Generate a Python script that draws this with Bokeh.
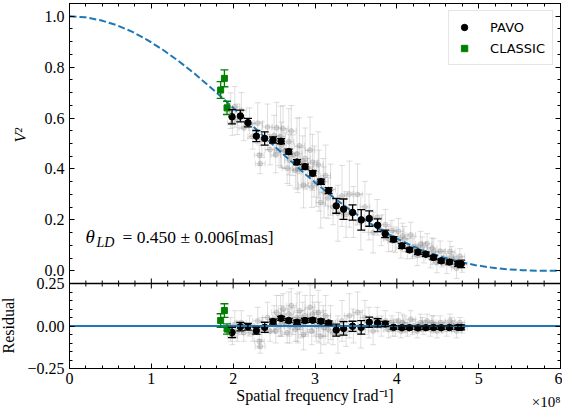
import numpy as np
from bokeh.plotting import figure
from bokeh.models import (ColumnDataSource, Whisker, TeeHead, Span, Label, Legend, Title,
                          LegendItem, LinearAxis, SingleIntervalTicker, FixedTicker, Range1d,
                          CustomJSTickFormatter)
from bokeh.embed import file_html
from bokeh.resources import INLINE

# ---------------- data (spatial frequency in units of 1e8 rad^-1) ----------------
model_sf = [0.0, 0.1909, 0.3817, 0.5726, 0.7635, 0.9544, 1.1452, 1.3361, 1.527, 1.7178,
            1.9087, 2.0996, 2.2904, 2.4813, 2.6722, 2.863, 3.0539, 3.2448, 3.4356, 3.6265,
            3.8174, 4.0082, 4.1991, 4.39, 4.5808, 4.7717, 4.9626, 5.1535, 5.3443, 5.5352,
            5.7261, 5.85, 6.0]
model_v2 = [1.0, 0.996, 0.984, 0.9653, 0.9394, 0.9062, 0.8672, 0.8232, 0.7748, 0.7224,
            0.6674, 0.6109, 0.5533, 0.4961, 0.4397, 0.3849, 0.3326, 0.2833, 0.2376, 0.1958,
            0.1581, 0.1249, 0.0960, 0.0714, 0.0511, 0.0347, 0.0220, 0.0126, 0.0062, 0.0022,
            0.0003, 0.0, 0.0004]

pavo_sf = [1.986, 2.088, 2.180, 2.283, 2.385, 2.487, 2.585, 2.678, 2.780, 2.878,
           2.971, 3.073, 3.166, 3.260, 3.349, 3.459, 3.565, 3.663, 3.765, 3.858,
           3.960, 4.062, 4.155, 4.258, 4.355, 4.448, 4.542, 4.643, 4.746, 4.786]
pavo_v2 = [0.605, 0.608, 0.582, 0.529, 0.520, 0.514, 0.509, 0.468, 0.427, 0.409,
           0.383, 0.350, 0.315, 0.255, 0.242, 0.229, 0.200, 0.205, 0.179, 0.145,
           0.124, 0.098, 0.082, 0.073, 0.065, 0.052, 0.039, 0.034, 0.027, 0.027]
pavo_err = [0.028, 0.023, 0.017, 0.022, 0.026, 0.012, 0.010, 0.010, 0.010, 0.010,
            0.010, 0.010, 0.012, 0.029, 0.040, 0.030, 0.040, 0.030, 0.025, 0.015,
            0.010, 0.010, 0.008, 0.008, 0.008, 0.008, 0.008, 0.008, 0.010, 0.015]
pavo_res = [-0.038, -0.004, -0.004, -0.028, -0.008, 0.026, 0.045, 0.032, 0.022, 0.032,
            0.034, 0.028, 0.018, -0.024, -0.014, -0.002, -0.008, 0.022, 0.018, 0.012,
            -0.008, -0.010, -0.010, -0.011, -0.010, -0.009, -0.010, -0.009, -0.008, -0.008]
pavo_res_err = [0.030, 0.025, 0.020, 0.020, 0.030, 0.015, 0.012, 0.012, 0.012, 0.012,
                0.012, 0.012, 0.012, 0.035, 0.040, 0.030, 0.040, 0.030, 0.025, 0.015,
                0.010, 0.010, 0.010, 0.010, 0.010, 0.010, 0.010, 0.010, 0.012, 0.015]

classic_sf = [1.847, 1.893, 1.925]
classic_v2 = [0.710, 0.756, 0.640]
classic_err = [0.033, 0.033, 0.026]
classic_res = [0.032, 0.091, -0.018]
classic_res_err = [0.040, 0.040, 0.030]

gray_sf = [1.97, 1.99, 2.02, 2.05, 2.10, 2.13, 2.20, 2.24, 2.30, 2.32, 2.33, 2.35, 2.42, 2.45,
           2.50, 2.52, 2.53, 2.56, 2.58, 2.59, 2.61, 2.63, 2.66, 2.68, 2.69, 2.71, 2.73, 2.76, 2.78, 2.79,
           2.81, 2.83, 2.85, 2.86, 2.88, 2.91, 2.94, 2.96, 2.97, 2.99, 3.02, 3.04, 3.05, 3.07, 3.10, 3.11,
           3.13, 3.16, 3.19, 3.22, 3.28, 3.33, 3.38, 3.42, 3.47, 3.52, 3.56, 3.61, 3.66, 3.71, 3.76, 3.81,
           3.86, 3.90, 3.94, 3.95, 3.98, 4.02, 4.05, 4.07, 4.09, 4.13, 4.17, 4.19, 4.21, 4.25, 4.29, 4.31,
           4.33, 4.37, 4.41, 4.43, 4.45, 4.49, 4.53, 4.55, 4.57, 4.61, 4.65, 4.67, 4.69, 4.73, 4.77, 4.80]
gray_v2 = [0.629, 0.582, 0.644, 0.595, 0.630, 0.561, 0.580, 0.528, 0.580, 0.454, 0.421, 0.515, 0.565, 0.476,
           0.531, 0.455, 0.562, 0.473, 0.527, 0.494, 0.558, 0.472, 0.403, 0.507, 0.435, 0.549, 0.454, 0.395, 0.460, 0.397,
           0.491, 0.405, 0.430, 0.337, 0.441, 0.403, 0.474, 0.329, 0.426, 0.390, 0.342, 0.416, 0.354, 0.268, 0.351, 0.308,
           0.374, 0.286, 0.319, 0.251, 0.226, 0.294, 0.221, 0.301, 0.231, 0.300, 0.192, 0.251, 0.211, 0.150, 0.210, 0.159,
           0.181, 0.125, 0.158, 0.117, 0.122, 0.155, 0.090, 0.137, 0.124, 0.087, 0.141, 0.088, 0.095, 0.060, 0.105, 0.093,
           0.071, 0.106, 0.051, 0.089, 0.076, 0.032, 0.077, 0.045, 0.052, 0.029, 0.076, 0.055, 0.043, 0.010, 0.057, 0.024]
gray_err = [0.07, 0.05, 0.08, 0.06, 0.07, 0.05, 0.06, 0.05, 0.08, 0.04, 0.04, 0.07, 0.09, 0.06,
            0.08, 0.07, 0.10, 0.06, 0.12, 0.09, 0.09, 0.07, 0.06, 0.13, 0.10, 0.10, 0.08, 0.07, 0.14, 0.09,
            0.11, 0.08, 0.10, 0.09, 0.12, 0.07, 0.13, 0.08, 0.11, 0.10, 0.09, 0.13, 0.12, 0.10, 0.09, 0.10,
            0.12, 0.08, 0.10, 0.07, 0.11, 0.12, 0.09, 0.13, 0.10, 0.12, 0.11, 0.10, 0.09, 0.08, 0.07, 0.06,
            0.06, 0.05, 0.04, 0.04, 0.05, 0.05, 0.04, 0.05, 0.05, 0.04, 0.05, 0.04, 0.04, 0.04, 0.05, 0.04,
            0.04, 0.04, 0.04, 0.04, 0.05, 0.04, 0.04, 0.03, 0.03, 0.04, 0.04, 0.04, 0.03, 0.04, 0.03, 0.03]
gray_res = [-0.02, -0.06, 0.01, -0.03, 0.02, -0.04, 0.00, -0.04, 0.03, -0.09, -0.12, -0.02, 0.05, -0.03,
            0.04, -0.03, 0.08, 0.00, 0.06, 0.03, 0.10, 0.02, -0.04, 0.07, 0.00, 0.12, 0.03, -0.02, 0.05, -0.01,
            0.09, 0.01, 0.04, -0.05, 0.06, 0.03, 0.11, -0.03, 0.07, 0.04, 0.00, 0.08, 0.02, -0.06, 0.03, -0.01,
            0.06, -0.02, 0.02, -0.04, -0.05, 0.03, -0.03, 0.06, 0.00, 0.08, -0.02, 0.05, 0.02, -0.03, 0.04, 0.00,
            0.03, -0.02, 0.02, -0.02, -0.01, 0.03, -0.03, 0.02, 0.01, -0.02, 0.04, -0.01, 0.00, -0.03, 0.02, 0.01,
            -0.01, 0.03, -0.02, 0.02, 0.01, -0.03, 0.02, -0.01, 0.00, -0.02, 0.03, 0.01, 0.00, -0.03, 0.02, -0.01]
gray_xerr = 0.06

x_major_ticks = [0, 1, 2, 3, 4, 5, 6]
v2_major_ticks = [0.0, 0.2, 0.4, 0.6, 0.8, 1.0]
v2_tick_labels = ["0.0", "0.2", "0.4", "0.6", "0.8", "1.0"]
res_major_ticks = [-0.25, 0.0, 0.25]
res_tick_labels = ["\u22120.25", "0.00", "0.25"]

# ---------------- two stacked panels sharing one frame ----------------
TOP_LO, TOP_HI = -0.05, 1.05
RES_LO, RES_HI = -0.25, 0.25
PANEL_RATIO = 85 / 280          # residual panel height / main panel height
H_B = (TOP_HI - TOP_LO) * PANEL_RATIO
MAIN_LO = TOP_LO - H_B
RES_PER_U = (RES_HI - RES_LO) / H_B
RES_TOP = RES_LO + (TOP_HI - MAIN_LO) * RES_PER_U


def res_pos(r):
    return MAIN_LO + (r - RES_LO) / RES_PER_U


SERIF = "Liberation Serif"
SANS = "DejaVu Sans"
BLUE = "#1f77b4"
GREEN = "#008000"

p = figure(width=562, height=414, x_range=Range1d(0, 6), y_range=Range1d(MAIN_LO, TOP_HI),
           output_backend="svg", toolbar_location=None,
           min_border_left=69, min_border_right=2, min_border_top=3, min_border_bottom=46)
p.extra_y_ranges = {"res": Range1d(RES_LO, RES_TOP)}
p.grid.visible = False
p.outline_line_color = "black"
p.outline_line_width = 1
p.background_fill_color = "white"
p.border_fill_color = "white"


def style_axis(ax, labels=True):
    ax.major_tick_in = 5
    ax.major_tick_out = 0
    ax.minor_tick_in = 3
    ax.minor_tick_out = 0
    ax.axis_line_color = "black"
    ax.major_tick_line_color = "black"
    ax.minor_tick_line_color = "black"
    ax.major_label_text_font = SERIF
    ax.major_label_text_font_size = "16px"
    ax.major_label_text_color = "black"
    ax.axis_label_text_font = SERIF
    ax.axis_label_text_font_size = "16px"
    ax.axis_label_text_color = "black"
    ax.axis_label_text_font_style = "normal"
    if not labels:
        ax.major_label_text_font_size = "0px"
        ax.major_label_standoff = 0


# y ticks: main panel + residual panel
v2_minor = [round(0.05 * i, 2) for i in range(0, 21)]
v2_minor = [v for v in v2_minor if all(abs(v - m) > 1e-9 for m in v2_major_ticks)]
res_minor = [round(-0.25 + 0.05 * i, 2) for i in range(0, 11)]
res_minor = [r for r in res_minor if all(abs(r - m) > 1e-9 for m in res_major_ticks)]
y_major = list(v2_major_ticks) + [res_pos(r) for r in res_major_ticks]
y_minor = list(v2_minor) + [res_pos(r) for r in res_minor]
y_labels = list(v2_tick_labels) + list(res_tick_labels)

p.yaxis.ticker = FixedTicker(ticks=y_major, minor_ticks=y_minor)
p.yaxis.formatter = CustomJSTickFormatter(args=dict(pos=y_major, lab=y_labels), code="""
    for (let i = 0; i < pos.length; i++) {
        if (Math.abs(tick - pos[i]) < 1e-6) return lab[i];
    }
    return '';
""")
style_axis(p.yaxis[0])
p.yaxis.major_label_standoff = 5

p.xaxis.ticker = SingleIntervalTicker(interval=1, num_minor_ticks=5)
p.xaxis.formatter = CustomJSTickFormatter(code="return tick.toFixed(0);")
style_axis(p.xaxis[0])
p.xaxis.major_label_standoff = 4
p.xaxis.axis_label = "Spatial frequency [rad\u207b\u00b9]"
p.xaxis.axis_label_standoff = 0

top_ax = LinearAxis(ticker=SingleIntervalTicker(interval=1, num_minor_ticks=5))
style_axis(top_ax, labels=False)
p.add_layout(top_ax, "above")
right_ax = LinearAxis(ticker=FixedTicker(ticks=y_major, minor_ticks=y_minor))
style_axis(right_ax, labels=False)
p.add_layout(right_ax, "right")

# axis titles of the two panels, and the x offset text
p.add_layout(Title(text="V²", align="left", offset=226, standoff=-8, text_font=SERIF,
                   text_font_size="16px", text_font_style="italic", text_color="black"), "left")
p.add_layout(Title(text="Residual", align="left", offset=15, standoff=-7, text_font=SERIF,
                   text_font_size="16px", text_font_style="normal", text_color="black"), "left")
p.add_layout(Title(text="×10⁸", align="right", vertical_align="top", standoff=-26,
                   text_font=SERIF, text_font_size="15px", text_font_style="normal",
                   text_color="black"), "below")

# panel boundary with inward ticks on both sides
p.add_layout(Span(location=TOP_LO, dimension="width", line_color="black", line_width=1.5,
                  level="overlay"))
x_minor = [round(0.2 * i, 2) for i in range(0, 31)]
x_minor = [v for v in x_minor if all(abs(v - m) > 1e-9 for m in x_major_ticks)]
p.scatter(x_major_ticks, [TOP_LO] * len(x_major_ticks), marker="dash", angle=np.pi / 2,
          size=10, line_color="black", line_width=1, level="overlay")
p.scatter(x_minor, [TOP_LO] * len(x_minor), marker="dash", angle=np.pi / 2,
          size=6, line_color="black", line_width=1, level="overlay")


def errbars(x, y, e, color, width, alpha, cap, level, dim="height", yr="default"):
    x = np.asarray(x, dtype=float)
    y = np.asarray(y, dtype=float)
    e = np.asarray(e, dtype=float) * np.ones_like(x)
    if dim == "height":
        src = ColumnDataSource(dict(base=x, lo=y - e, hi=y + e))
    else:
        src = ColumnDataSource(dict(base=y, lo=x - e, hi=x + e))
    w = Whisker(source=src, base="base", lower="lo", upper="hi", dimension=dim,
                line_color=color, line_width=width, line_alpha=alpha, level=level,
                y_range_name=yr,
                lower_head=TeeHead(size=cap, line_color=color, line_width=width, line_alpha=alpha),
                upper_head=TeeHead(size=cap, line_color=color, line_width=width, line_alpha=alpha))
    p.add_layout(w)


# ---------------- main panel ----------------
errbars(gray_sf, gray_v2, gray_err, "gray", 1, 0.25, 6, "underlay")
errbars(gray_sf, gray_v2, gray_xerr, "gray", 1, 0.25, 6, "underlay", dim="width")
p.scatter(gray_sf, gray_v2, size=5, marker="circle", fill_color="gray", fill_alpha=0.25,
          line_color="gray", line_alpha=0.25)

p.line(model_sf, model_v2, line_color=BLUE, line_width=2, line_dash="7 3")

errbars(pavo_sf, pavo_v2, pavo_err, "black", 1.3, 1.0, 8, "annotation")
r_pavo = p.scatter(pavo_sf, pavo_v2, size=6.5, marker="circle", fill_color="black", line_color="black")
errbars(classic_sf, classic_v2, classic_err, GREEN, 1.3, 1.0, 8, "annotation")
r_classic = p.scatter(classic_sf, classic_v2, size=6, marker="square", fill_color=GREEN, line_color=GREEN)

legend = Legend(items=[LegendItem(label="PAVO", renderers=[r_pavo]),
                       LegendItem(label="CLASSIC", renderers=[r_classic])],
                location="top_right")
legend.label_text_font = SANS
legend.label_text_font_size = "13px"
legend.label_text_color = "black"
legend.border_line_color = "#cccccc"
legend.border_line_width = 1
legend.background_fill_alpha = 0.8
legend.padding = 7
legend.spacing = 3
legend.glyph_width = 16
legend.glyph_height = 18
legend.label_height = 18
legend.label_standoff = 18
legend.margin = 7
p.add_layout(legend)

# theta_LD = 0.450 +/- 0.006 [mas]
p.add_layout(Label(x=0.195, y=0.094, text="θ", text_font=SERIF, text_font_size="19px",
                   text_font_style="italic", text_color="black"))
p.add_layout(Label(x=0.195, y=0.094, x_offset=11, y_offset=-3, text="LD", text_font=SERIF,
                   text_font_size="14px", text_font_style="italic", text_color="black"))
p.add_layout(Label(x=0.195, y=0.094, x_offset=37, text="= 0.450 ± 0.006[mas]", text_font=SERIF,
                   text_font_size="17.5px", text_color="black"))

# ---------------- residual panel ----------------
errbars(gray_sf, gray_res, gray_err, "gray", 1, 0.25, 6, "underlay", yr="res")
errbars(gray_sf, gray_res, gray_xerr, "gray", 1, 0.25, 6, "underlay", dim="width", yr="res")
p.scatter(gray_sf, gray_res, size=5, marker="circle", fill_color="gray", fill_alpha=0.25,
          line_color="gray", line_alpha=0.25, y_range_name="res")

p.add_layout(Span(location=0, dimension="width", line_color=BLUE, line_width=2,
                  level="glyph", y_range_name="res"))

errbars(pavo_sf, pavo_res, pavo_res_err, "black", 1.3, 1.0, 8, "annotation", yr="res")
p.scatter(pavo_sf, pavo_res, size=6.5, marker="circle", fill_color="black", line_color="black",
          y_range_name="res")
errbars(classic_sf, classic_res, classic_res_err, GREEN, 1.3, 1.0, 8, "annotation", yr="res")
p.scatter(classic_sf, classic_res, size=6, marker="square", fill_color=GREEN, line_color=GREEN,
          y_range_name="res")

open("out.html", "w").write(file_html(p, INLINE))
